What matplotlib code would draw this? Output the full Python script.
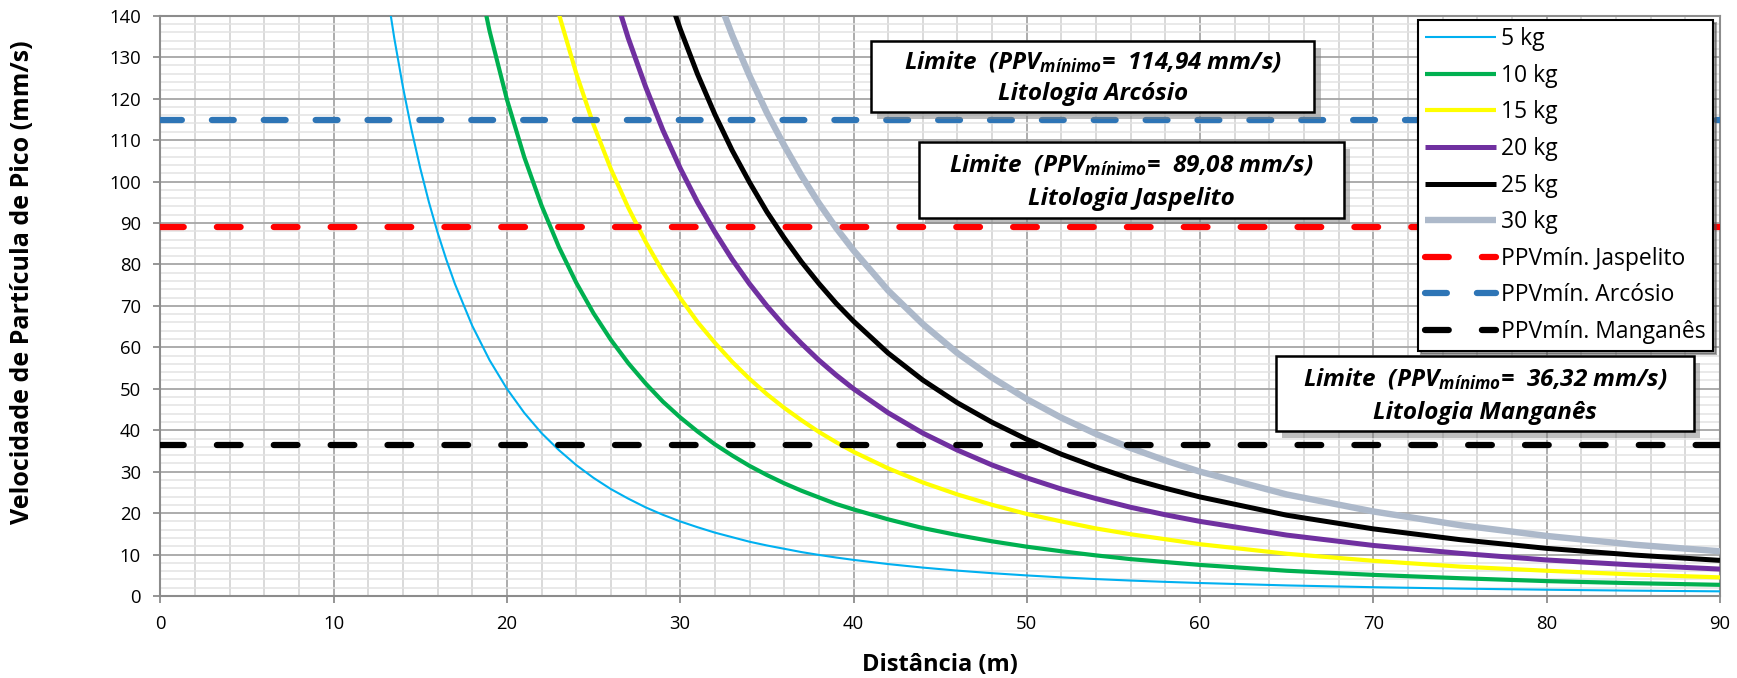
import numpy as np
import matplotlib
matplotlib.use("Agg")
import matplotlib.pyplot as plt
from matplotlib.ticker import MultipleLocator
from matplotlib.patches import FancyBboxPatch

plt.rcParams['font.family'] = ['Open Sans', 'DejaVu Sans']
plt.rcParams['mathtext.fontset'] = 'custom'
plt.rcParams['mathtext.rm'] = 'Open Sans:italic:bold'
plt.rcParams['mathtext.it'] = 'Open Sans:italic:bold'
plt.rcParams['mathtext.bf'] = 'Open Sans:italic:bold'

# Distância (m)
distancia = [13, 13.5, 14, 14.5, 15, 15.5, 16, 16.5, 17,
             18, 19, 20, 21, 22, 23, 24, 25, 26, 27, 28, 29, 30,
             31, 32, 33, 34, 35, 36, 37, 38, 39, 40,
             42, 44, 46, 48, 50, 52, 54, 56, 58, 60,
             65, 70, 75, 80, 85, 90]

# PPV (mm/s) per charge; each list ends at 90 m and starts at its first point above the top of the axis
ppv_5kg = [148.1, 134.6, 122.8, 112.4, 103.2, 95.0, 87.7, 81.2, 75.3,
           65.2, 56.9, 50.0, 44.2, 39.3, 35.2, 31.6, 28.5, 25.8, 23.5, 21.4, 19.6, 18.0,
           16.6, 15.3, 14.2, 13.1, 12.2, 11.4, 10.6, 9.92, 9.29, 8.72,
           7.71, 6.86, 6.13, 5.51, 4.97, 4.50, 4.09, 3.73, 3.42, 3.14,
           2.56, 2.13, 1.79, 1.52, 1.30, 1.13]
ppv_10kg = [156.2, 136.3, 119.8, 105.9, 94.2, 84.2, 75.6, 68.2, 61.8, 56.2, 51.3, 46.9, 43.1,
            39.7, 36.6, 33.9, 31.4, 29.2, 27.2, 25.4, 23.8, 22.2, 20.9,
            18.5, 16.4, 14.7, 13.2, 11.9, 10.8, 9.8, 8.9, 8.2, 7.5,
            6.1, 5.1, 4.3, 3.6, 3.1, 2.7]
ppv_15kg = [157.0, 140.4, 126.1, 113.7, 103.0, 93.7, 85.5, 78.2, 71.9,
            66.1, 61.1, 56.5, 52.4, 48.7, 45.4, 42.4, 39.6, 37.1, 34.8,
            30.8, 27.4, 24.5, 22.0, 19.8, 18.0, 16.3, 14.9, 13.7, 12.5,
            10.2, 8.5, 7.1, 6.1, 5.2, 4.5]
ppv_20kg = [148.0, 134.6, 122.9, 112.4, 103.2,
            95.0, 87.8, 81.2, 75.3, 70.0, 65.2, 60.9, 56.9, 53.3, 50.0,
            44.2, 39.3, 35.2, 31.6, 28.5, 25.8, 23.5, 21.4, 19.6, 18.0,
            14.7, 12.2, 10.3, 8.7, 7.5, 6.5]
ppv_25kg = [148.9, 136.8,
            125.9, 116.2, 107.5, 99.8, 92.7, 86.4, 80.6, 75.4, 70.6, 66.3,
            58.6, 52.1, 46.6, 41.9, 37.8, 34.2, 31.1, 28.3, 26.0, 23.9,
            19.5, 16.2, 13.6, 11.5, 9.9, 8.6]
ppv_30kg = [146.3, 135.3, 125.5, 116.6, 108.7, 101.4, 94.8, 88.8, 83.4,
            73.7, 65.6, 58.6, 52.7, 47.5, 43.0, 39.1, 35.7, 32.7, 30.0,
            24.5, 20.4, 17.1, 14.5, 12.4, 10.8]

cargas = ['5 kg', '10 kg', '15 kg', '20 kg', '25 kg', '30 kg']
series_ppv = [ppv_5kg, ppv_10kg, ppv_15kg, ppv_20kg, ppv_25kg, ppv_30kg]
cores = ['#00B0F0', '#00B050', '#FFFF00', '#7030A0', '#000000', '#ADB9CA']
espessuras = [1.5, 3.0, 3.0, 3.6, 3.6, 4.6]

# Limits per lithology
limites_nomes = ['PPVmín. Jaspelito', 'PPVmín. Arcósio', 'PPVmín. Manganês']
limites_valores = [89.08, 114.94, 36.32]
limites_cores = ['#FF0000', '#2E75B6', '#000000']
limites_dash = [(3.8, 5.3), (3.5, 4.8), (3.8, 5.3)]
litologias = ['Jaspelito', 'Arcósio', 'Manganês']
limites_texto = ['89,08', '114,94', '36,32']

fig = plt.figure(figsize=(17.37, 6.78), dpi=100)
ax = fig.add_axes([0.0923, 0.1209, 0.8979, 0.8559])

for nome, vals, cor, lw in zip(cargas, series_ppv, cores, espessuras):
    d = distancia[len(distancia) - len(vals):]
    ax.plot(d, vals, color=cor, lw=lw, label=nome, zorder=3, solid_capstyle='butt')

for nome, v, cor, dash in zip(limites_nomes, limites_valores, limites_cores, limites_dash):
    ln = ax.axhline(v, color=cor, lw=4.5, linestyle=(0, dash), label=nome, zorder=4)
    ln.set_dash_capstyle('round')

ax.set_xlim(0, 90)
ax.set_ylim(0, 140)
ax.xaxis.set_major_locator(MultipleLocator(10))
ax.xaxis.set_minor_locator(MultipleLocator(2))
ax.yaxis.set_major_locator(MultipleLocator(10))
ax.yaxis.set_minor_locator(MultipleLocator(2))
ax.grid(which='major', color='#A6A6A6', lw=1.3, zorder=0)
ax.grid(which='minor', axis='x', color='#D0D0D0', lw=1.1, zorder=0)
ax.grid(which='minor', axis='y', color='#E3E3E3', lw=1.1, zorder=0)
ax.set_axisbelow(True)
for s in ax.spines.values():
    s.set_color('#8C8C8C')
    s.set_linewidth(1.5)
ax.tick_params(which='major', direction='out', length=5, width=1.3, color='#8C8C8C',
               labelsize=13.3, labelcolor='black')
ax.tick_params(which='minor', length=0)
ax.tick_params(axis='y', pad=9)
ax.tick_params(axis='x', pad=9)

ax.set_xlabel('Distância (m)', fontsize=17, fontweight='bold', labelpad=14)
ax.set_ylabel('Velocidade de Partícula de Pico (mm/s)', fontsize=18, fontweight='bold')
ax.yaxis.set_label_coords(-0.0805, 0.54)

leg = ax.legend(loc='upper right', bbox_to_anchor=(0.9955, 0.992), fontsize=16.5,
                frameon=True, fancybox=False, shadow=True, framealpha=1,
                edgecolor='black', handlelength=3.1, handletextpad=0.25,
                labelspacing=0.55, borderpad=0.3, borderaxespad=0)
leg.get_frame().set_linewidth(1.5)
leg.set_zorder(10)
for h in leg.get_lines():
    h.set_dash_capstyle('round')

# Annotation boxes (data coordinates: x0, x1, y0, y1)
caixas = [(41.0, 66.6, 116.7, 133.9), (43.8, 68.3, 91.3, 109.5), (64.4, 88.5, 39.7, 57.8)]
ordem = [1, 0, 2]
for (x0, x1, y0, y1), i in zip(caixas, ordem):
    sombra = FancyBboxPatch((x0 + 0.35, y0 - 1.6), x1 - x0, y1 - y0, boxstyle='square,pad=0',
                            facecolor='#7F7F7F', edgecolor='none', alpha=0.5, zorder=7)
    ax.add_patch(sombra)
    caixa = FancyBboxPatch((x0, y0), x1 - x0, y1 - y0, boxstyle='square,pad=0',
                           facecolor='white', edgecolor='black', lw=1.8, zorder=8)
    ax.add_patch(caixa)
    xc = (x0 + x1) / 2
    ax.text(xc, y0 + (y1 - y0) * 0.70,
            'Limite  (PPV$_{\\mathrm{mínimo}}$=  ' + limites_texto[i] + ' mm/s)',
            ha='center', va='center', fontsize=17.5, fontweight='bold', style='italic', zorder=9)
    ax.text(xc, y0 + (y1 - y0) * 0.25, 'Litologia ' + litologias[i],
            ha='center', va='center', fontsize=17.5, fontweight='bold', style='italic', zorder=9)

fig.savefig('out.png', dpi=100)
